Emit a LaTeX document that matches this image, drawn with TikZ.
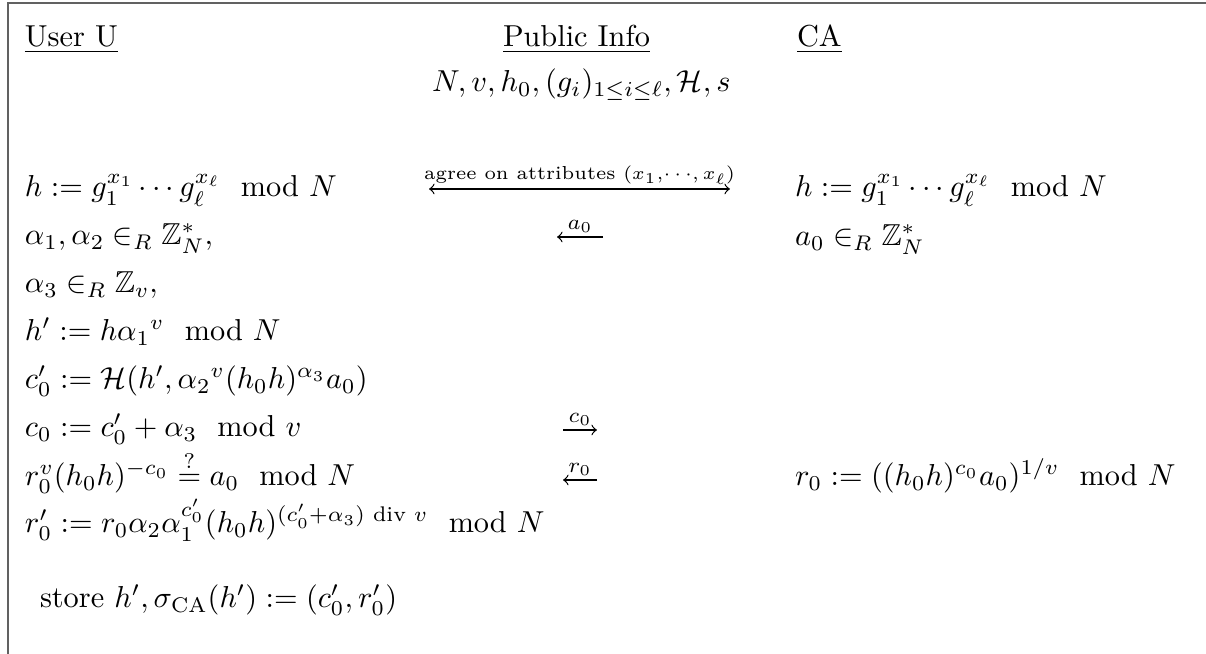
\documentclass[tikz,border=0pt]{standalone}
\usepackage{amsmath,amssymb}
\begin{document}
\begin{tikzpicture}[x=0.33pt,y=-0.33pt,
  txt/.style={anchor=base west,inner sep=0pt,outer sep=0pt},
  frameline/.style={draw=black!62,line width=0.6pt},
  msg/.style={line width=0.4pt},
  lbl/.style={above,inner sep=1.3pt,font=\fontsize{6.2}{7}\selectfont}]
\useasboundingbox (0,0) rectangle (1206,654);
\draw[frameline] (8,654) -- (8,3) -- (1206,3);
% headers
\node[txt] (user) at (25,47) {\underline{User U}};
\node[txt] (pub) at (503,47) {\underline{Public Info}};
\node[txt] (ca) at (797,47) {\underline{CA}};
\node[txt] (params) at (432,92) {$N, v, h_0, (g_i)_{1\le i\le\ell}, \mathcal{H}, s$};
% user side
\node[txt] (u1) at (25,197) {$h := g_1^{x_1}\cdots g_\ell^{x_\ell} \mod N$};
\node[txt] (u2) at (25,245) {$\alpha_1, \alpha_2 \in_R \mathbb{Z}_N^*,$};
\node[txt] (u3) at (25,293) {$\alpha_3 \in_R \mathbb{Z}_v,$};
\node[txt] (u4) at (25,341) {$h' := h{\alpha_1}^v \mod N$};
\node[txt] (u5) at (25,389) {$c_0' := \mathcal{H}(h', {\alpha_2}^v (h_0h)^{\alpha_3} a_0)$};
\node[txt] (u6) at (25,437) {$c_0 := c_0' + \alpha_3 \mod v$};
\node[txt] (u7) at (25,486) {$r_0^v (h_0h)^{-c_0} \overset{?}{=} a_0 \mod N$};
\node[txt] (u8) at (25,533) {$r_0' := r_0\alpha_2\alpha_1^{c_0'}(h_0h)^{(c_0'+\alpha_3)\text{ div }v} \mod N$};
\node[txt] (store) at (40,608) {store $h', \sigma_{\mathrm{CA}}(h') := (c_0', r_0')$};
% CA side
\node[txt] (c1) at (795,197) {$h := g_1^{x_1}\cdots g_\ell^{x_\ell} \mod N$};
\node[txt] (c2) at (795,246) {$a_0 \in_R \mathbb{Z}_N^*$};
\node[txt] (c7) at (795,486) {$r_0 := ((h_0h)^{c_0}a_0)^{1/v} \mod N$};
% messages
\coordinate (agL) at (429,189);
\coordinate (agR) at (730,189);
\coordinate (a0L) at (557,237);
\coordinate (a0R) at (603,237);
\coordinate (c0L) at (563,430);
\coordinate (c0R) at (597,430);
\coordinate (r0L) at (563,480);
\coordinate (r0R) at (597,480);
\draw[msg,<->] (agL) -- node[lbl] {agree on attributes $(x_1,\!\cdots\!,x_\ell)$} (agR);
\draw[msg,->] (a0R) -- node[lbl,font=\scriptsize] {$a_0$} (a0L);
\draw[msg,->] (c0L) -- node[lbl,font=\scriptsize] {$c_0$} (c0R);
\draw[msg,->] (r0R) -- node[lbl,font=\scriptsize] {$r_0$} (r0L);
\end{tikzpicture}
\end{document}
